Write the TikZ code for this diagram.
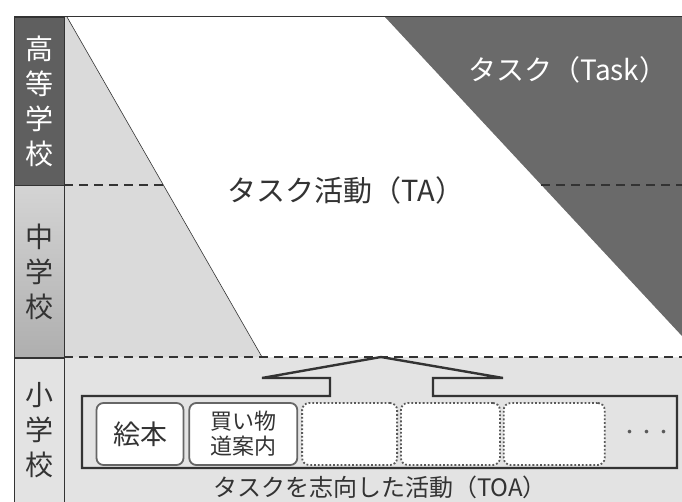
\documentclass[tikz,border=0pt]{standalone}
\usepackage{fontspec}
\newfontfamily\jp{Noto Sans CJK JP}
\usetikzlibrary{positioning}

\definecolor{taskgray}{HTML}{6A6A6A}
\definecolor{highgray}{HTML}{5F5F5F}
\definecolor{midgray}{HTML}{C2C2C2}
\definecolor{basegray}{HTML}{DADADA}
\definecolor{lowgray}{HTML}{E3E3E3}
\definecolor{inkgray}{HTML}{333333}

\begin{document}
\begin{tikzpicture}[
  x=1pt, y=-1pt,
  school/.style={font=\jp\fontsize{28}{35}\selectfont, align=center, inner sep=0pt},
  caption/.style={font=\jp\fontsize{29}{30}\selectfont, text=inkgray, inner sep=0pt},
  itembox/.style={draw=gray!80!black, line width=1.8pt, rounded corners=7pt, fill=white, minimum height=62pt, font=\jp\fontsize{22}{25}\selectfont, text=inkgray, inner sep=0pt, align=center},
  slotbox/.style={itembox, draw=gray!70!black, dotted},
  level/.style={draw=inkgray, dashed, dash pattern=on 9pt off 6pt, line width=1.7pt}
]
\useasboundingbox (0,0) rectangle (682,502);

% corners of the regions
\coordinate (tl) at (64,17);
\coordinate (tr) at (682,17);
\coordinate (ml) at (64,357);
\coordinate (mr) at (682,357);
\coordinate (taTop) at (67,17);
\coordinate (taFoot) at (262,357);
\coordinate (taskTop) at (385,17);
\coordinate (taskFoot) at (682,336);

% school column
\node (high) [school, text=white, fill=highgray, draw=inkgray, minimum width=50pt, minimum height=168pt, anchor=north west] at (14,17) {高\\等\\学\\校};
\node (mid) [school, text=inkgray, top color=midgray!70, bottom color=midgray!90!black, draw=inkgray, minimum width=50pt, minimum height=172pt, anchor=north] at (high.south) {中\\学\\校};
\node (low) [school, text=inkgray, fill=lowgray, draw=inkgray, minimum width=50pt, minimum height=145pt, anchor=north] at (mid.south) {小\\学\\校};

% areas
\fill[basegray] (tl) rectangle (mr);
\fill[lowgray] (ml) rectangle (682,502);
\fill[white] (taTop) -- (taskTop) -- (taskFoot) -- (mr) -- (taFoot) -- cycle;
\fill[taskgray] (taskTop) -- (tr) -- (taskFoot) -- cycle;
\draw[inkgray, line width=0.6pt] (taTop) -- (taFoot);
\draw[inkgray, line width=1pt] (14,17) -- (tr);
\draw[inkgray, line width=1pt] (tl) -- (64,502);

% school levels
\draw[level] (64,185) -- (164,185);
\draw[level] (541,185) -- (682,185);
\draw[level] (ml) -- (mr);

\node (task) [caption, text=white, font=\jp\fontsize{28}{30}\selectfont] at (568,70) {タスク（Task）};
\node (ta) [caption] at (346,190) {タスク活動（TA）};

% activities with the arrow
\draw[inkgray, line width=2.4pt, fill=lowgray, line join=miter]
  (433,396) -- (677,396) -- (677,468) -- (82,468) -- (82,396) -- (330,396)
  -- (330,378) -- (262,378) -- (381,357) -- (503,378) -- (433,378) -- cycle;

\node (ehon) [itembox, minimum width=87pt] at (140,434) {\fontsize{27}{30}\selectfont 絵本};
\node (kaimono) [itembox, minimum width=108pt, right=4pt of ehon] {買い物\\道案内};
\node (slotA) [slotbox, minimum width=95pt, right=3pt of kaimono] {};
\node (slotB) [slotbox, minimum width=99pt, right=2pt of slotA] {};
\node (slotC) [slotbox, minimum width=101pt, right=2pt of slotB] {};
\node (more) [font=\jp\fontsize{17}{18}\selectfont, text=gray!70!black, right=12pt of slotC] {・・・};

\node (toa) [caption, font=\jp\fontsize{24}{26}\selectfont] at (380,487) {タスクを志向した活動（TOA）};

\end{tikzpicture}
\end{document}
